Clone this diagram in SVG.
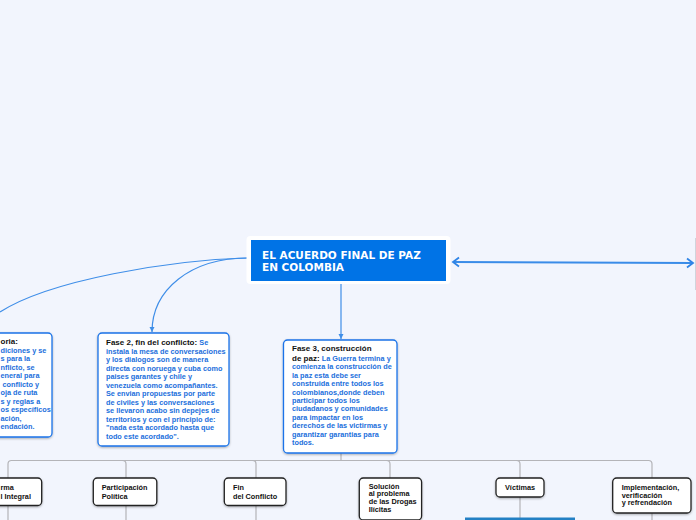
<svg xmlns="http://www.w3.org/2000/svg" width="696" height="520" viewBox="0 0 696 520">
<defs>
<style>
.bg{fill:#f2f5fd}
.fase{fill:#fff;stroke:#1a73e8;stroke-width:1.3}
.sub{fill:#fff;stroke:#222;stroke-width:1.3}
.t{font-family:"Liberation Sans",Arial,sans-serif;font-weight:bold;font-size:7.3px;fill:#1b6fdc}
.h{font-family:"Liberation Sans",Arial,sans-serif;font-weight:bold;font-size:8px;fill:#111}
.k{font-family:"Liberation Sans",Arial,sans-serif;font-weight:bold;font-size:7.3px;fill:#111}
.title{font-family:"DejaVu Sans","Liberation Sans",sans-serif;font-weight:bold;font-size:10.5px;fill:#fff}
.bl{fill:none;stroke:#3f8ee8;stroke-width:1.2}
.gl{fill:none;stroke:#b4b4b8;stroke-width:1.2}
</style>
<filter id="sh" x="-10%" y="-10%" width="120%" height="130%">
<feDropShadow dx="0" dy="1" stdDeviation="0.8" flood-color="#000" flood-opacity="0.3"/>
</filter>
<marker id="tri" markerUnits="userSpaceOnUse" markerWidth="6" markerHeight="6" refX="5" refY="3" orient="auto">
<path d="M0,0.5 L5,3 L0,5.5 z" fill="#3f8ee8"/>
</marker>
<marker id="chev" markerUnits="userSpaceOnUse" markerWidth="10" markerHeight="12" refX="7" refY="6" orient="auto-start-reverse">
<path d="M1,1.5 L7,6 L1,10.5" fill="none" stroke="#2f84e6" stroke-width="1.8"/>
</marker>
</defs>
<rect class="bg" x="0" y="0" width="696" height="520"/>

<g id="connectors">
<path class="bl" d="M248,258 C170,260 50,280 0,312"/>
<path class="bl" d="M248,258 C190,258 152,290 152,332" marker-end="url(#tri)"/>
<path class="bl" d="M341,284 L341,339" marker-end="url(#tri)"/>
<path d="M453,262 L693,263" fill="none" stroke="#3a8ce8" stroke-width="2" marker-start="url(#chev)" marker-end="url(#chev)"/>
<line x1="695.5" y1="238" x2="695.5" y2="290" stroke="#d0d4dc" stroke-width="1"/>
<path class="gl" d="M341,453 L341,460.5"/>
<path class="gl" d="M8,520 L8,464 Q8,460.5 11.5,460.5 L648.5,460.5 Q652,460.5 652,464 L652,520"/>
<path class="gl" d="M122.5,460.5 Q126,460.5 126,464 L126,520"/>
<path class="gl" d="M252.5,460.5 Q256,460.5 256,464 L256,520"/>
<path class="gl" d="M386.5,460.5 Q390,460.5 390,464 L390,520"/>
<path class="gl" d="M516.5,460.5 Q520,460.5 520,464 L520,520"/>
</g>

<g id="central">
<rect x="246.5" y="236" width="204" height="48" rx="4" fill="#fff"/>
<rect x="251" y="240" width="195" height="41" fill="#0073e6"/>
<text class="title" x="262" y="258.7">EL ACUERDO FINAL DE PAZ</text>
<text class="title" x="262" y="270.5">EN COLOMBIA</text>
</g>

<g id="fase1">
<rect class="fase" x="-80" y="333" width="132" height="104" rx="4" filter="url(#sh)"/>
<text class="h" x="0.5" y="344">oria:</text>
<text class="t">
<tspan x="0.5" y="352.5">diciones y se</tspan>
<tspan x="0.5" y="361">s para la</tspan>
<tspan x="0.5" y="369.5">nflicto, se</tspan>
<tspan x="0.5" y="378">eneral para</tspan>
<tspan x="2.5" y="386.5">conflicto y</tspan>
<tspan x="0.5" y="395">oja de ruta</tspan>
<tspan x="0.5" y="403.5">s y reglas a</tspan>
<tspan x="0.5" y="412">os específicos</tspan>
<tspan x="0.5" y="420.5">ación,</tspan>
<tspan x="0.5" y="429">endación.</tspan>
</text>
</g>

<g id="fase2">
<rect class="fase" x="98" y="333" width="131" height="113" rx="4" filter="url(#sh)"/>
<text x="106" y="345"><tspan class="h">Fase 2, fin del conflicto: </tspan><tspan class="t">Se</tspan></text>
<text class="t">
<tspan x="106" y="353.5">instala la mesa de conversaciones</tspan>
<tspan x="106" y="362">y los dialogos son de manera</tspan>
<tspan x="106" y="370.5">directa con noruega y cuba como</tspan>
<tspan x="106" y="379">paises garantes y chile y</tspan>
<tspan x="106" y="387.5">venezuela como acompañantes.</tspan>
<tspan x="106" y="396">Se envian propuestas por parte</tspan>
<tspan x="106" y="404.5">de civiles y las conversaciones</tspan>
<tspan x="106" y="413">se llevaron acabo sin depejes de</tspan>
<tspan x="106" y="421.5">territorios y con el principio de:</tspan>
<tspan x="106" y="430">"nada esta acordado hasta que</tspan>
<tspan x="106" y="438.5">todo este acordado".</tspan>
</text>
</g>

<g id="fase3">
<rect class="fase" x="283.5" y="340" width="113.5" height="113" rx="4" filter="url(#sh)"/>
<text class="h" x="292" y="350.5">Fase 3, construcción</text>
<text x="292" y="361"><tspan class="h">de paz: </tspan><tspan class="t">La Guerra termina y</tspan></text>
<text class="t">
<tspan x="292" y="369.4">comienza la construcción de</tspan>
<tspan x="292" y="377.8">la paz esta debe ser</tspan>
<tspan x="292" y="386.2">construida entre todos los</tspan>
<tspan x="292" y="394.6">colombianos,donde deben</tspan>
<tspan x="292" y="403">participar todos los</tspan>
<tspan x="292" y="411.4">ciudadanos y comunidades</tspan>
<tspan x="292" y="419.8">para impactar en los</tspan>
<tspan x="292" y="428.2">derechos de las victirmas y</tspan>
<tspan x="292" y="436.6">garantizar garantias para</tspan>
<tspan x="292" y="445">todos.</tspan>
</text>
</g>

<g id="reforma">
<rect class="sub" x="-40" y="478" width="81.7" height="27.5" rx="4" filter="url(#sh)"/>
<text class="k"><tspan x="0.5" y="490">rma</tspan><tspan x="0.5" y="498.5">l Integral</tspan></text>
</g>

<g id="participacion">
<rect class="sub" x="93.3" y="478" width="63.5" height="27.5" rx="4" filter="url(#sh)"/>
<text class="k"><tspan x="101.7" y="490">Participación</tspan><tspan x="101.7" y="498.5">Política</tspan></text>
</g>

<g id="fin">
<rect class="sub" x="224.3" y="478" width="61.7" height="27.5" rx="4" filter="url(#sh)"/>
<text class="k"><tspan x="233" y="490">Fin</tspan><tspan x="233" y="498.5">del Conflicto</tspan></text>
</g>

<g id="drogas">
<rect class="sub" x="359.3" y="478" width="62.3" height="42" rx="4" filter="url(#sh)"/>
<text class="k"><tspan x="368.7" y="488.5">Solución</tspan><tspan x="368.7" y="496.3">al problema</tspan><tspan x="368.7" y="504.1">de las Drogas</tspan><tspan x="368.7" y="511.9">Ilícitas</tspan></text>
</g>

<g id="victimas">
<rect class="sub" x="496" y="478" width="48" height="19" rx="4" filter="url(#sh)"/>
<text class="k" x="505" y="490.3">Víctimas</text>
</g>
<g id="victimas-child">
<rect x="465" y="517.5" width="110" height="4" fill="#2380c4"/>
</g>

<g id="implementacion">
<rect class="sub" x="612.7" y="478" width="78.3" height="35" rx="4" filter="url(#sh)"/>
<text class="k"><tspan x="621.7" y="490">Implementación,</tspan><tspan x="621.7" y="497.7">verificación</tspan><tspan x="621.7" y="505.4">y refrendación</tspan></text>
</g>
</svg>
